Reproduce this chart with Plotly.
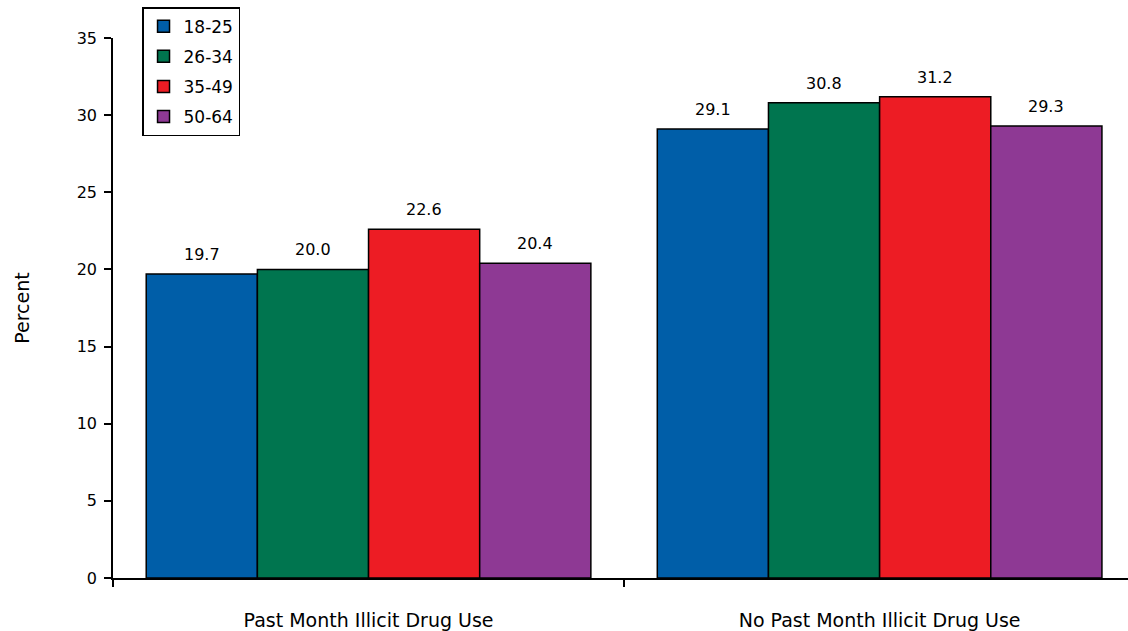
import plotly.graph_objects as go

categories = ["Past Month Illicit Drug Use", "No Past Month Illicit Drug Use"]
age_groups = ["18-25", "26-34", "35-49", "50-64"]
values = {
    "18-25": [19.7, 29.1],
    "26-34": [20.0, 30.8],
    "35-49": [22.6, 31.2],
    "50-64": [20.4, 29.3],
}
colors = {
    "18-25": "#005EA8",
    "26-34": "#00754F",
    "35-49": "#ED1C24",
    "50-64": "#8E3994",
}
y_ticks = [0, 5, 10, 15, 20, 25, 30, 35]

BARGAP = 0.13
FONT = "DejaVu Sans, Arial, sans-serif"

fig = go.Figure()
for name in age_groups:
    fig.add_trace(go.Bar(
        x=categories,
        y=values[name],
        name=name,
        legendgroup=name,
        marker=dict(color=colors[name], line=dict(color="black", width=1.5)),
    ))

# value labels above each bar, positioned from the bar geometry
n = len(age_groups)
bar_w = (1 - BARGAP) / n
annotations = []
for i, name in enumerate(age_groups):
    offset = (i - (n - 1) / 2) * bar_w
    for j, v in enumerate(values[name]):
        annotations.append(dict(
            x=j + offset, y=v, xref="x", yref="y",
            text=f"{v:.1f}", showarrow=False,
            yanchor="bottom", yshift=8,
            font=dict(family=FONT, size=16, color="black"),
        ))

fig.update_layout(
    width=1128, height=631,
    margin=dict(l=113, r=0, t=38, b=53),
    paper_bgcolor="white", plot_bgcolor="white",
    barmode="group", bargap=BARGAP, bargroupgap=0,
    font=dict(family=FONT, color="black"),
    showlegend=True,
    legend=dict(
        x=0.0286, y=1.057, xanchor="left", yanchor="top",
        bgcolor="white", bordercolor="black", borderwidth=1.5,
        font=dict(family=FONT, size=17, color="black"),
        traceorder="grouped", tracegroupgap=5,
        entrywidth=100, entrywidthmode="pixels",
    ),
    annotations=annotations,
)

fig.update_xaxes(
    type="category",
    range=[-0.5, 1.486],
    showline=True, linecolor="black", linewidth=1.5,
    ticks="outside", tickson="boundaries", ticklen=7, tickwidth=1.5, tickcolor="black",
    tickfont=dict(family=FONT, size=19, color="black"),
    ticklabelstandoff=24,
    showgrid=False, zeroline=False,
)
fig.update_yaxes(
    range=[0, 35],
    tickvals=y_ticks,
    showline=True, linecolor="black", linewidth=1.5,
    ticks="outside", ticklen=7, tickwidth=1.5, tickcolor="black",
    tickfont=dict(family=FONT, size=16, color="black"),
    ticklabelstandoff=4,
    showgrid=False, zeroline=False,
    title=dict(text="Percent", font=dict(family=FONT, size=19, color="black"), standoff=42),
)

fig.write_html("out.html")
